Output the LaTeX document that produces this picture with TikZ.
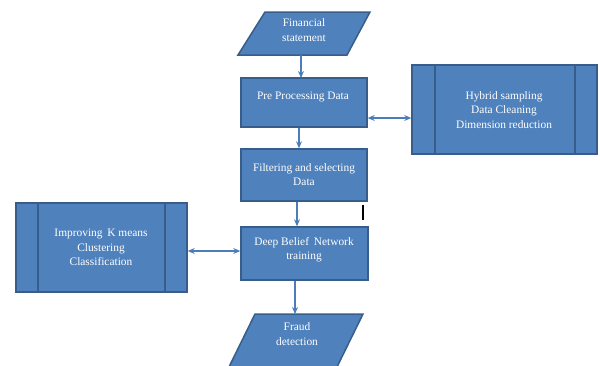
\documentclass[tikz,border=0pt]{standalone}
\usepackage{fontspec}
\setmainfont{Liberation Serif}
\usetikzlibrary{arrows.meta}
\definecolor{boxfill}{RGB}{79,129,189}
\definecolor{boxline}{RGB}{56,93,138}
\definecolor{arr}{RGB}{74,126,187}
\begin{document}
\begin{tikzpicture}[x=1pt,y=-1pt,
  box/.style={draw=boxline,fill=boxfill,line width=1.5pt,rectangle,inner sep=0pt},
  txt/.style={text=white,align=center,font=\fontsize{11.4}{14.5}\selectfont,inner sep=0pt},
  conn/.style={draw=arr,line width=1.1pt,-{Stealth[length=7pt,width=6pt]}},
  dconn/.style={draw=arr,line width=1.1pt,{Stealth[length=7pt,width=6pt]}-{Stealth[length=7pt,width=6pt]}}]
\useasboundingbox (0,0) rectangle (600,365);
% Financial statement parallelogram
\draw[box] (265,12) -- (370,12) -- (347,55) -- (238,55) -- cycle;
\coordinate (finb) at (301,55);
\node[txt] (fintxt) at (304,30) {Financial\\statement};
% Pre processing
\node[box,minimum width=126pt,minimum height=49pt] (pre) at (304,102.5) {};
\node[txt] (pretxt) at (303,97) {Pre Processing Data};
% Hybrid box
\node[box,minimum width=185pt,minimum height=89pt] (hyb) at (504.5,109.5) {};
\draw[boxline,line width=1.5pt] (435,65) -- (435,154) (575,65) -- (575,154);
\node[txt] (hybtxt) at (504,110) {Hybrid sampling\\Data Cleaning\\Dimension reduction};
% Filtering
\node[box,minimum width=126pt,minimum height=52pt] (fil) at (304,175) {};
\node[txt] (filtxt) at (304,174.5) {Filtering and selecting\\Data};
% Deep belief
\node[box,minimum width=127pt,minimum height=53pt] (dbn) at (304.5,253.5) {};
\node[txt] (dbntxt) at (304,249.5) {Deep Belief\, Network\\training};
% Improving box
\node[box,minimum width=171pt,minimum height=89pt] (imp) at (101.5,247.5) {};
\draw[boxline,line width=1.5pt] (38,203) -- (38,292) (165,203) -- (165,292);
\node[txt] (imptxt) at (101,247.5) {Improving\, K means\\Clustering\\Classification};
% Fraud detection parallelogram
\draw[box] (255,314) -- (363,314) -- (336,369) -- (228,369) -- cycle;
\coordinate (frt) at (295,314);
\node[txt] (fratxt) at (297,334) {Fraud\\detection};
% cursor mark
\draw[black,line width=1.4pt] (363,205) -- (363,220);
% connectors
\coordinate (pretop) at (301,78);
\draw[conn] (finb) -- (pretop);
\draw[conn] (pre.south -| 299,0) -- (fil.north -| 299,0);
\draw[conn] (fil.south -| 297,0) -- (dbn.north -| 297,0);
\draw[conn] (dbn.south -| 295,0) -- (frt);
\draw[dconn] (pre.east |- 0,118) -- (hyb.west |- 0,118);
\draw[dconn] (imp.east |- 0,251) -- (dbn.west |- 0,251);
\end{tikzpicture}
\end{document}
